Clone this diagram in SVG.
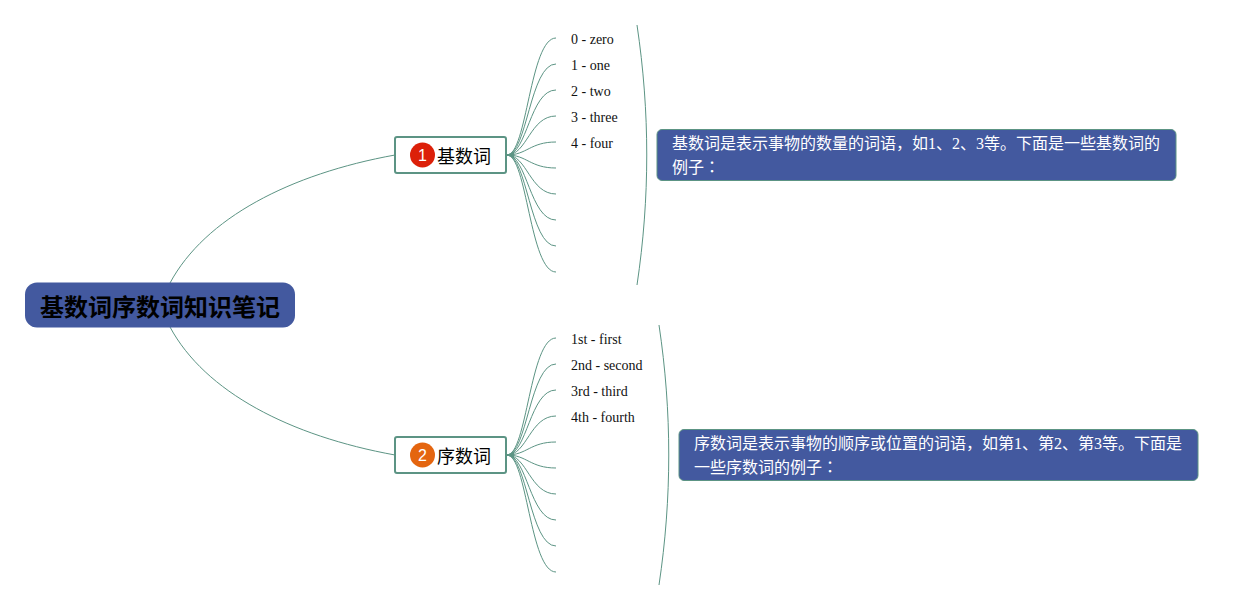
<svg xmlns="http://www.w3.org/2000/svg" width="1243" height="610" viewBox="0 0 1243 610">
<style>
text{font-family:"Liberation Serif","Noto Sans CJK SC",serif}
.l{fill:none;stroke:#5c9484;stroke-width:1}
.t{font-size:14px;fill:#111}
.n{font-size:16px;fill:#fff}
.b{fill:#43599f;stroke:#5c9484;stroke-width:1}
.m{fill:#fff;stroke:#5c9484;stroke-width:2}
.h{font-size:18px;fill:#000;font-family:"Noto Sans CJK SC",sans-serif}
.d{font-size:16px;fill:#fff;font-family:"Liberation Sans",sans-serif}
.c{font-family:"Noto Sans CJK TC",sans-serif}
</style>
<g id="connectors">
<path class="l" d="M170 283C205 218 290 174 395 155"/>
<path class="l" d="M170 327C205 392 290 436 395 455"/>
<path class="l" d="M507 155C527 155 530 38 556 38"/>
<path class="l" d="M507 155C527 155 530 64 556 64"/>
<path class="l" d="M507 155C527 155 530 90 556 90"/>
<path class="l" d="M507 155C527 155 530 116 556 116"/>
<path class="l" d="M507 155C527 155 530 142 556 142"/>
<path class="l" d="M507 155C527 155 530 168 556 168"/>
<path class="l" d="M507 155C527 155 530 194 556 194"/>
<path class="l" d="M507 155C527 155 530 220 556 220"/>
<path class="l" d="M507 155C527 155 530 246 556 246"/>
<path class="l" d="M507 155C527 155 530 272 556 272"/>
<path class="l" d="M507 455C527 455 530 338 556 338"/>
<path class="l" d="M507 455C527 455 530 364 556 364"/>
<path class="l" d="M507 455C527 455 530 390 556 390"/>
<path class="l" d="M507 455C527 455 530 416 556 416"/>
<path class="l" d="M507 455C527 455 530 442 556 442"/>
<path class="l" d="M507 455C527 455 530 468 556 468"/>
<path class="l" d="M507 455C527 455 530 494 556 494"/>
<path class="l" d="M507 455C527 455 530 520 556 520"/>
<path class="l" d="M507 455C527 455 530 546 556 546"/>
<path class="l" d="M507 455C527 455 530 572 556 572"/>
<path class="l" d="M637 25C650 112 650 198 637 285"/>
<path class="l" d="M659 325C672 412 672 498 659 585"/>
<path d="M507 155L514 151.500V158.500Z" fill="#5c9484"/>
<path d="M507 455L514 451.500V458.500Z" fill="#5c9484"/>
</g>
<g id="root">
<rect x="25" y="282.500" width="270" height="45" rx="12" fill="#43599f"/>
<text class="h" x="40" y="315.500" style="font-size:24px;font-weight:700">基数词序数词知识笔记</text>
</g>
<g id="topic1">
<rect class="m" x="395" y="137" width="111" height="36" rx="2"/>
<circle cx="422.500" cy="155" r="12.500" fill="#dc2009"/>
<text x="422.500" y="161" text-anchor="middle" class="d">1</text>
<text class="h" x="437" y="162.500">基数词</text>
</g>
<g id="topic2">
<rect class="m" x="395" y="437" width="111" height="36" rx="2"/>
<circle cx="422.500" cy="455" r="12.500" fill="#e4650f"/>
<text x="422.500" y="461" text-anchor="middle" class="d">2</text>
<text class="h" x="437" y="462.500">序数词</text>
</g>
<g id="items1">
<text class="t" x="571" y="44">0 - zero</text>
<text class="t" x="571" y="70">1 - one</text>
<text class="t" x="571" y="96">2 - two</text>
<text class="t" x="571" y="122">3 - three</text>
<text class="t" x="571" y="148">4 - four</text>
</g>
<g id="items2">
<text class="t" x="571" y="344">1st - first</text>
<text class="t" x="571" y="370">2nd - second</text>
<text class="t" x="571" y="396">3rd - third</text>
<text class="t" x="571" y="422">4th - fourth</text>
</g>
<g id="note1">
<rect class="b" x="657" y="129.500" width="519" height="51" rx="5"/>
<text class="n" x="672" y="149">基数词是表示事物的数量的词语，如1、2、3等。下面是一些基数词的</text>
<text class="n" x="672" y="173">例子<tspan class="c">：</tspan></text>
</g>
<g id="note2">
<rect class="b" x="679" y="429.500" width="519" height="51" rx="5"/>
<text class="n" x="694" y="449">序数词是表示事物的顺序或位置的词语，如第1、第2、第3等。下面是</text>
<text class="n" x="694" y="473">一些序数词的例子<tspan class="c">：</tspan></text>
</g>
</svg>
